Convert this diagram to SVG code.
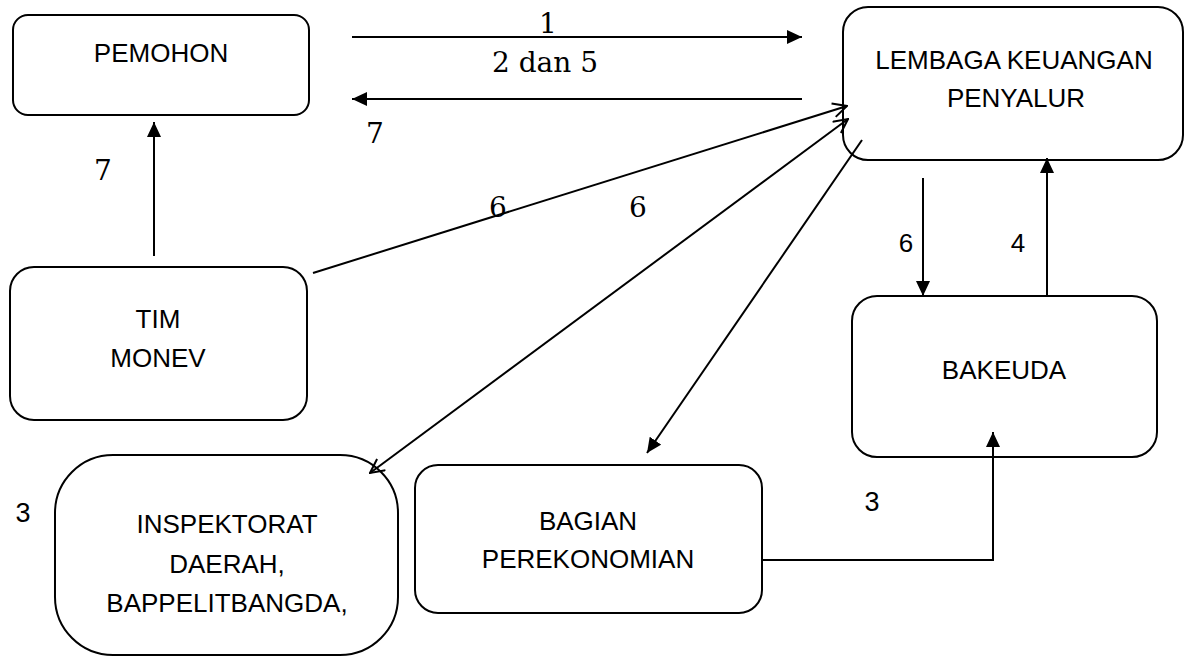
<svg xmlns="http://www.w3.org/2000/svg" width="1185" height="657" viewBox="0 0 1185 657">
<defs>
<style>
.box{fill:#fff;stroke:#000;stroke-width:2}
.t{font-family:"Liberation Sans",Arial,sans-serif;font-size:26px;fill:#000;text-anchor:middle}
.s{font-family:"DejaVu Serif","Liberation Serif",serif;font-size:28px;fill:#000;text-anchor:middle}
.n{font-family:"Liberation Sans",Arial,sans-serif;font-size:27px;fill:#000;text-anchor:middle}
.c{fill:none;stroke:#000;stroke-width:2}
</style>
<marker id="fa" viewBox="0 0 15 14" refX="15" refY="7" markerWidth="15" markerHeight="14" markerUnits="userSpaceOnUse" orient="auto">
<path d="M0,0 L15,7 L0,14 z" fill="#000"/>
</marker>
<marker id="oa" viewBox="0 0 16 16" refX="15" refY="8" markerWidth="16" markerHeight="16" markerUnits="userSpaceOnUse" orient="auto-start-reverse">
<path d="M1,1 L15,8 L1,15" fill="none" stroke="#000" stroke-width="2"/>
</marker>
</defs>
<rect width="1185" height="657" fill="#fff"/>

<g id="pemohon">
<rect class="box" x="13" y="15" width="296" height="100" rx="15" ry="15"/>
<text class="t" x="161" y="62">PEMOHON</text>
</g>

<g id="lembaga">
<rect class="box" x="843" y="7" width="340" height="153" rx="25" ry="25"/>
<text class="t" x="1014" y="69">LEMBAGA KEUANGAN</text>
<text class="t" x="1016" y="107">PENYALUR</text>
</g>

<g id="tim-monev">
<rect class="box" x="10" y="267" width="297" height="153" rx="24" ry="24"/>
<text class="t" x="158" y="328">TIM</text>
<text class="t" x="158" y="367">MONEV</text>
</g>

<g id="bakeuda">
<rect class="box" x="852" y="296" width="305" height="161" rx="25" ry="25"/>
<text class="t" x="1004" y="379">BAKEUDA</text>
</g>

<g id="inspektorat">
<rect class="box" x="55" y="455" width="343" height="200" rx="58" ry="58"/>
<text class="t" x="227" y="533">INSPEKTORAT</text>
<text class="t" x="227" y="573">DAERAH,</text>
<text class="t" x="227" y="612">BAPPELITBANGDA,</text>
</g>

<g id="bagian">
<rect class="box" x="415" y="465" width="347" height="148" rx="23" ry="23"/>
<text class="t" x="588" y="530">BAGIAN</text>
<text class="t" x="588" y="568">PEREKONOMIAN</text>
</g>

<g id="connectors">
<path class="c" d="M352,37 H802" marker-end="url(#fa)"/>
<path class="c" d="M802,99 H352" marker-end="url(#fa)"/>
<path class="c" d="M154,256 V122" marker-end="url(#fa)"/>
<path class="c" d="M313,273 L847,106" marker-end="url(#oa)"/>
<path class="c" d="M370,473 L848,119" marker-start="url(#oa)" marker-end="url(#oa)"/>
<path class="c" d="M862,140 L647,453" marker-end="url(#fa)"/>
<path class="c" d="M923,178 V296" marker-end="url(#fa)"/>
<path class="c" d="M1047,296 V158" marker-end="url(#fa)"/>
<path class="c" d="M762,560 H993 V432" marker-end="url(#fa)"/>
<text class="s" x="548" y="33">1</text>
<text class="s" x="545" y="72" font-size="29">2 dan 5</text>
<text class="s" x="375" y="143">7</text>
<text class="s" x="103" y="180">7</text>
<text class="s" x="498" y="217">6</text>
<text class="s" x="638" y="217">6</text>
<text class="t" x="906" y="252">6</text>
<text class="t" x="1018" y="252">4</text>
<text class="n" x="23" y="522">3</text>
<text class="n" x="872" y="511">3</text>
</g>
</svg>
